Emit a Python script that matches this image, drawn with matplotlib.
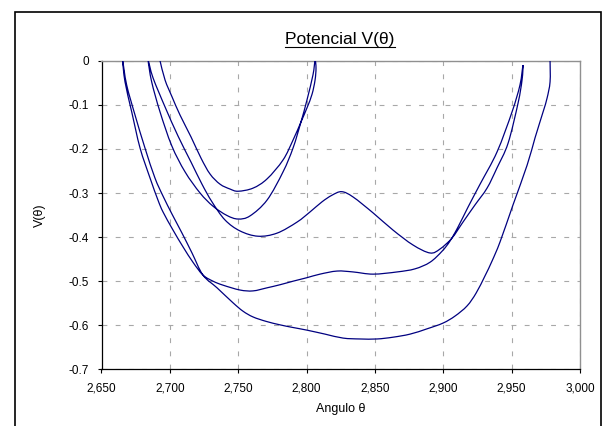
import matplotlib
matplotlib.use("Agg")
import matplotlib.pyplot as plt
from matplotlib.lines import Line2D
from matplotlib.patches import PathPatch, Rectangle
from matplotlib.path import Path
import numpy as np

plt.rcParams["font.family"] = ["Liberation Sans", "DejaVu Sans"]
plt.rcParams["axes.unicode_minus"] = False
plt.rcParams["lines.scale_dashes"] = False

# ---------------------------------------------------------------------------
# Data: one continuous trajectory V(theta)
# ---------------------------------------------------------------------------
# outer branch, from the right edge down to the deep minimum and back up-left
theta_outer = [2.9781, 2.9781, 2.9759, 2.9730, 2.9671, 2.9613, 2.9510, 2.9415,
               2.9357, 2.9305, 2.9240, 2.9174, 2.9086, 2.8998, 2.8881, 2.8757,
               2.8632, 2.8515, 2.8391, 2.8267, 2.8135, 2.8003, 2.7901, 2.7806,
               2.7703, 2.7608, 2.7535, 2.7462, 2.7345, 2.7242, 2.7162, 2.7089,
               2.7016, 2.6950, 2.6891, 2.6818, 2.6745, 2.6684, 2.6655]
v_outer = [0.0, -0.048, -0.085, -0.116, -0.175, -0.237, -0.327, -0.411,
           -0.454, -0.488, -0.527, -0.556, -0.579, -0.595, -0.608, -0.620,
           -0.627, -0.631, -0.631, -0.629, -0.620, -0.611, -0.605, -0.599,
           -0.591, -0.581, -0.568, -0.549, -0.515, -0.486, -0.436, -0.391,
           -0.348, -0.307, -0.266, -0.198, -0.123, -0.055, 0.0]

# second branch (minimum near -0.52, flat part near -0.48)
theta_mid = [2.6672, 2.6721, 2.6782, 2.6855, 2.6913, 2.6950, 2.7023, 2.7096,
             2.7169, 2.7242, 2.7316, 2.7389, 2.7513, 2.7608, 2.7711, 2.7806,
             2.7901, 2.8003, 2.8098, 2.8223, 2.8340, 2.8486, 2.8662, 2.8793,
             2.8903, 2.8991, 2.9049, 2.9108, 2.9181, 2.9269, 2.9393, 2.9503,
             2.9561, 2.9583]
v_mid = [-0.048, -0.116, -0.198, -0.266, -0.316, -0.343, -0.384, -0.422,
         -0.457, -0.486, -0.500, -0.509, -0.520, -0.522, -0.515, -0.508,
         -0.500, -0.492, -0.484, -0.477, -0.479, -0.484, -0.479, -0.472,
         -0.457, -0.432, -0.409, -0.377, -0.332, -0.280, -0.207, -0.116,
         -0.055, -0.010]

# third branch with the hump near 2.825
theta_hump = [2.9576, 2.9547, 2.9474, 2.9393, 2.9320, 2.9232, 2.9144, 2.9064,
              2.8976, 2.8903, 2.8779, 2.8632, 2.8486, 2.8340, 2.8257, 2.8186,
              2.8113, 2.8025, 2.7930, 2.7784, 2.7645, 2.7513, 2.7403, 2.7308,
              2.7235, 2.7155, 2.7060, 2.6965, 2.6877, 2.6842]
v_hump = [-0.044, -0.096, -0.187, -0.243, -0.289, -0.327, -0.366, -0.402,
          -0.427, -0.436, -0.418, -0.384, -0.345, -0.309, -0.297, -0.305,
          -0.320, -0.343, -0.366, -0.391, -0.398, -0.386, -0.361, -0.320,
          -0.280, -0.230, -0.171, -0.105, -0.039, 0.0]

# fourth branch (minimum near -0.357)
theta_low = [2.6867, 2.6928, 2.7014, 2.7111, 2.7221, 2.7316, 2.7418, 2.7499,
             2.7586, 2.7711, 2.7828, 2.7901, 2.7959, 2.8003, 2.8047, 2.8062]
v_low = [-0.048, -0.116, -0.193, -0.252, -0.300, -0.330, -0.351, -0.359,
         -0.352, -0.316, -0.252, -0.198, -0.139, -0.089, -0.032, 0.0]

# innermost branch (minimum near -0.296)
theta_in = [2.8069, 2.8062, 2.8040, 2.8003, 2.7959, 2.7901, 2.7828, 2.7711,
            2.7608, 2.7499, 2.7440, 2.7367, 2.7294, 2.7228, 2.7155, 2.7074,
            2.7016, 2.6965, 2.6928]
v_in = [-0.017, -0.044, -0.076, -0.107, -0.139, -0.180, -0.225, -0.268,
        -0.289, -0.296, -0.291, -0.280, -0.257, -0.221, -0.173, -0.123,
        -0.082, -0.044, 0.0]

x_ticks = [2.65, 2.70, 2.75, 2.80, 2.85, 2.90, 2.95, 3.00]
y_ticks = [0, -0.1, -0.2, -0.3, -0.4, -0.5, -0.6, -0.7]
y_tick_labels = ["0", "-0.1", "-0.2", "-0.3", "-0.4", "-0.5", "-0.6", "-0.7"]

TITLE = "Potencial V(\u03b8)"
XLABEL = "Angulo \u03b8"
YLABEL = "V(\u03b8)"


def smooth_path(x, y):
    """Excel-style 'smoothed line': cubic Bezier segments through the points."""
    pts = np.column_stack([x, y])
    ext = np.vstack([pts[0], pts, pts[-1]])
    verts = [pts[0]]
    codes = [Path.MOVETO]
    for i in range(len(pts) - 1):
        p0, p1, p2, p3 = ext[i], ext[i + 1], ext[i + 2], ext[i + 3]
        verts += [p1 + (p2 - p0) / 6, p2 - (p3 - p1) / 6, p2]
        codes += [Path.CURVE4] * 3
    return Path(verts, codes)


def main() -> None:
    theta = np.concatenate([theta_outer, theta_mid, theta_hump, theta_low, theta_in])
    v = np.concatenate([v_outer, v_mid, v_hump, v_low, v_in])

    W, H = 605, 426
    fig = plt.figure(figsize=(W / 100, H / 100), dpi=100)
    ax = fig.add_axes([101.5 / W, 1 - 369.4 / H, (580 - 101.5) / W, (369.4 - 60.7) / H])

    ax.add_patch(PathPatch(smooth_path(theta, v), facecolor="none",
                           edgecolor="#000080", linewidth=0.9, zorder=3))

    ax.set_xlim(2.65, 3.0)
    ax.set_ylim(-0.7, 0)
    ax.set_xticks(x_ticks)
    ax.set_xticklabels([f"{t:.3f}".replace(".", ",") for t in x_ticks])
    ax.set_yticks(y_ticks)
    ax.set_yticklabels(y_tick_labels)
    ax.tick_params(direction="out", length=3.2, width=0.8, labelsize=8.5,
                   colors="black", pad=6)

    ax.grid(True, color="#a8a8a8", linewidth=0.8, linestyle=(0, (3.5, 6)))
    ax.set_axisbelow(True)

    for side in ("left", "bottom"):
        ax.spines[side].set_color("black")
        ax.spines[side].set_linewidth(0.9)
    for side in ("top", "right"):
        ax.spines[side].set_color("#909090")
        ax.spines[side].set_linewidth(1.0)

    ax.set_xlabel(XLABEL, fontsize=9, labelpad=6)
    ax.set_ylabel(YLABEL, fontsize=9, labelpad=16)

    # chart-area border
    fig.add_artist(Rectangle((15 / W, -0.05), (601 - 15) / W, 1.05 - 12 / H,
                             transform=fig.transFigure, fill=False,
                             edgecolor="black", linewidth=1.2))

    title = fig.text(340 / W, 1 - 44 / H, TITLE, ha="center", va="baseline",
                     fontsize=12.5)
    fig.canvas.draw()
    bb = title.get_window_extent()
    uy = bb.y0 + 0.5
    fig.add_artist(Line2D([bb.x0 / W, bb.x1 / W], [uy / H, uy / H],
                          transform=fig.transFigure, color="black", linewidth=0.8))

    fig.savefig("out.png", dpi=100)


if __name__ == "__main__":
    main()
